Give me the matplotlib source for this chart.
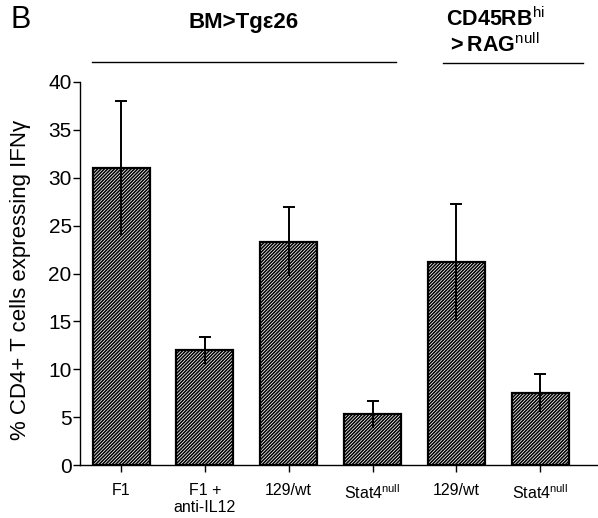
import matplotlib
matplotlib.use('Agg')
import matplotlib.pyplot as plt

plt.rcParams['font.family'] = ['Liberation Sans', 'DejaVu Sans']
plt.rcParams['mathtext.fontset'] = 'custom'
plt.rcParams['mathtext.rm'] = 'Liberation Sans'
plt.rcParams['mathtext.bf'] = 'Liberation Sans:bold'
plt.rcParams['hatch.linewidth'] = 1.15

labels = ['F1', 'F1 +\nanti-IL12', '129/wt', 'Stat4$^{\\mathrm{null}}$',
          '129/wt', 'Stat4$^{\\mathrm{null}}$']
values = [31.0, 12.0, 23.3, 5.3, 21.2, 7.5]
errors = [7.0, 1.4, 3.6, 1.4, 6.1, 2.0]
yticks = [0, 5, 10, 15, 20, 25, 30, 35, 40]

fig = plt.figure(figsize=(5.98, 5.18), dpi=100)
ax = fig.add_axes([0.1338, 0.1023, 0.8662, 0.7394])

x = list(range(len(values)))
ax.bar(x, values, width=0.68, color='white', edgecolor='black',
       hatch='//////////', linewidth=1.6, zorder=2)
# upper whisker with cap, lower whisker hidden in the hatch (no cap)
ax.errorbar(x, values, yerr=[[0] * len(errors), errors], fmt='none',
            ecolor='black', elinewidth=1.4, capsize=4, capthick=1.4, zorder=3)
ax.vlines(x, [v - e for v, e in zip(values, errors)], values,
          color='black', lw=1.4, zorder=3)

ax.set_xlim(-0.49, 5.69)
ax.set_ylim(0, 40)
ax.set_yticks(yticks)
ax.set_xticks(x)
ax.set_xticklabels(labels, fontsize=11.5)
ax.tick_params(axis='y', labelsize=15, length=5, width=1, pad=1)
ax.tick_params(axis='x', length=5, width=1, pad=8)
for s in ['top', 'right']:
    ax.spines[s].set_visible(False)
ax.spines['left'].set_linewidth(1)
ax.spines['bottom'].set_linewidth(1)
fig.text(0.035, 0.459, '% CD4+ T cells expressing IFN\u03b3', fontsize=16,
         rotation=90, ha='center', va='center')

# group headers
fig.text(0.018, 0.962, 'B', fontsize=22, va='center', ha='left')
fig.text(0.408, 0.957, 'BM>Tg\u03b526', fontsize=16, fontweight='bold',
         ha='center', va='center')
fig.add_artist(plt.Line2D([0.154, 0.662], [0.880, 0.880], color='black', lw=1))
fig.text(0.745, 0.962, '$\\mathbf{CD45RB}^{\\mathrm{hi}}$', fontsize=15.5,
         ha='left', va='center')
fig.text(0.745, 0.913, '$\\mathbf{>RAG}^{\\mathrm{null}}$', fontsize=15.5,
         ha='left', va='center')
fig.add_artist(plt.Line2D([0.741, 0.975], [0.878, 0.878], color='black', lw=1))

fig.savefig('out.png', dpi=100)
